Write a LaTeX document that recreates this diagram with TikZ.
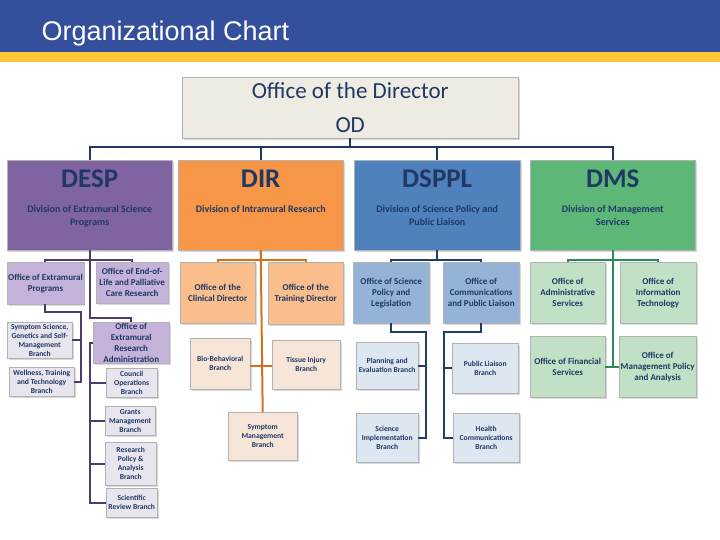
\documentclass[tikz,border=0pt]{standalone}
\usepackage{fontspec}
\setmainfont{Carlito}
\newfontfamily\titlefont{Liberation Sans}
\usetikzlibrary{shadows}
\definecolor{navy}{HTML}{1F3864}
\definecolor{hdrblue}{HTML}{34509C}
\definecolor{hdrgold}{HTML}{FFC83A}
\definecolor{purpD}{HTML}{8064A2}\definecolor{purpM}{HTML}{C4B2DA}\definecolor{purpL}{HTML}{E9E5EF}\definecolor{purpLn}{HTML}{4E3A6C}
\definecolor{orgD}{HTML}{F79646}\definecolor{orgM}{HTML}{F9BE8C}\definecolor{orgL}{HTML}{F7E5D8}\definecolor{orgLn}{HTML}{D2721E}
\definecolor{bluD}{HTML}{4F81BD}\definecolor{bluM}{HTML}{95B3D7}\definecolor{bluL}{HTML}{DDE7F1}\definecolor{bluLn}{HTML}{213E6C}
\definecolor{grnD}{HTML}{5DB878}\definecolor{grnM}{HTML}{C2E0C5}\definecolor{grnLn}{HTML}{2E8A5A}
\definecolor{odfill}{HTML}{EEEBE3}
\tikzset{
  block/.style={anchor=north west, inner sep=1pt, align=center, text=navy,
    font=\bfseries, draw=white!70!black, line width=0.4pt,
    drop shadow={opacity=0.3, shadow xshift=1.5pt, shadow yshift=-1.5pt}},
  division/.style={block, font=\bfseries\fontsize{10}{13}\selectfont},
  office/.style={block, font=\bfseries\fontsize{9}{11}\selectfont},
  branch/.style={block, font=\bfseries\fontsize{7.6}{9}\selectfont},
  link/.style={line width=2pt},
}
\newcommand{\abbr}[1]{{\fontsize{27}{30}\selectfont #1}}
\begin{document}
\begin{tikzpicture}[x=1pt,y=-1pt]
\useasboundingbox (0,0) rectangle (720,540);
% header band
\fill[hdrblue] (0,0) rectangle (720,52);
\fill[hdrgold] (0,52) rectangle (720,62);
\node[anchor=west, text=white, font=\titlefont\fontsize{27}{30}\selectfont] (title) at (38,34) {Organizational Chart};

% director and divisions
\node[block, fill=odfill, minimum width=336pt, minimum height=61pt, font=\fontsize{23}{34}\selectfont] (od) at (182,77) {Office of the Director\\OD};
\node[division, fill=purpD, minimum width=165pt, minimum height=90pt] (desp) at (7,160) {\abbr{DESP}\\[12pt]Division of Extramural Science\\Programs\\[2pt]};
\node[division, fill=orgD, minimum width=165pt, minimum height=90pt] (dir) at (178,160) {\abbr{DIR}\\[12pt]Division of Intramural Research\\[15pt]};
\node[division, fill=bluD, minimum width=166pt, minimum height=90pt] (dsppl) at (354,160) {\abbr{DSPPL}\\[12pt]Division of Science Policy and\\Public Liaison\\[2pt]};
\node[division, fill=grnD, minimum width=165pt, minimum height=90pt] (dms) at (530,160) {\abbr{DMS}\\[12pt]Division of Management\\Services\\[2pt]};
\draw[link, navy, line width=2.2pt] (od.south) -- ++(0,9) coordinate (bus);
\foreach \d in {desp,dir,dsppl,dms}
  \draw[link, navy, line width=2.2pt] (bus) -| (\d.north);

% DESP
\node[office, fill=purpM, minimum width=75pt, minimum height=42pt] (oep) at (7,262) {Office of Extramural\\Programs};
\node[office, fill=purpM, minimum width=72pt, minimum height=41pt] (oel) at (96,262) {Office of End-of-\\Life and Palliative\\Care Research};
\node[office, fill=purpM, minimum width=76pt, minimum height=40pt] (ora) at (93,322) {Office of\\Extramural\\Research\\Administration};
\node[branch, fill=purpL, minimum width=65pt, minimum height=36pt] (ssg) at (7,322) {Symptom Science,\\Genetics and Self-\\Management\\Branch};
\node[branch, fill=purpL, minimum width=65pt, minimum height=29pt] (wtt) at (9,367) {Wellness, Training\\and Technology\\Branch};
\node[branch, fill=purpL, minimum width=51pt, minimum height=29pt] (cob) at (106,368) {Council\\Operations\\Branch};
\node[branch, fill=purpL, minimum width=50pt, minimum height=29pt] (gmb) at (105,406) {Grants\\Management\\Branch};
\node[branch, fill=purpL, minimum width=51pt, minimum height=43pt] (rpa) at (105,442) {Research\\Policy \&\\Analysis\\Branch};
\node[branch, fill=purpL, minimum width=51pt, minimum height=29pt] (srb) at (106,488) {Scientific\\Review Branch};
\draw[link, purpLn] (desp.south) -- ++(0,10) coordinate (despbus);
\draw[link, purpLn] (despbus) -| (oep.north);
\draw[link, purpLn] (despbus) -| (oel.north);
\draw[link, purpLn] (desp.south) -- (desp.south |- 0,318) -| (ora.north);
\draw[link, purpLn] (oep.south) |- (81,312) |- (wtt.east);
\draw[link, purpLn] (ssg.east) -- (ssg.east -| 81,0);
\draw[link, purpLn] (ora.west) -- ++(-3,0) |- (srb.west);
\foreach \b in {cob,gmb,rpa}
  \draw[link, purpLn] (\b.west) -- (\b.west -| 90,0);

% DIR
\node[office, fill=orgM, minimum width=75pt, minimum height=61pt] (ocd) at (180,262) {Office of the\\Clinical Director};
\node[office, fill=orgM, minimum width=75pt, minimum height=62pt] (otd) at (268,262) {Office of the\\Training Director};
\node[branch, fill=orgL, minimum width=60pt, minimum height=51pt] (bbb) at (190,338) {Bio-Behavioral\\Branch};
\node[branch, fill=orgL, minimum width=68pt, minimum height=49pt] (tib) at (272,340) {Tissue Injury\\Branch};
\node[branch, fill=orgL, minimum width=69pt, minimum height=48pt] (smb) at (228,412) {Symptom\\Management\\Branch};
\draw[link, orgLn] (dir.south) -- ++(0,10) coordinate (dirbus);
\draw[link, orgLn] (dirbus) -| (ocd.north);
\draw[link, orgLn] (dirbus) -| (otd.north);
\draw[link, orgLn] (dir.south) -- (smb.north);
\draw[link, orgLn] (bbb.east |- 0,366) -- (tib.west |- 0,366);

% DSPPL
\node[office, fill=bluM, minimum width=76pt, minimum height=61pt] (ospl) at (353,262) {Office of Science\\Policy and\\Legislation};
\node[office, fill=bluM, minimum width=76pt, minimum height=61pt] (ocpl) at (443,262) {Office of\\Communications\\and Public Liaison};
\node[branch, fill=bluL, minimum width=62pt, minimum height=47pt] (peb) at (356,342) {Planning and\\Evaluation Branch};
\node[branch, fill=bluL, minimum width=62pt, minimum height=49pt] (sib) at (356,413) {Science\\Implementation\\Branch};
\node[branch, fill=bluL, minimum width=66pt, minimum height=50pt] (plb) at (452,343) {Public Liaison\\Branch};
\node[branch, fill=bluL, minimum width=66pt, minimum height=49pt] (hcb) at (453,413) {Health\\Communications\\Branch};
\draw[link, bluLn] (dsppl.south) -- ++(0,10) coordinate (dspplbus);
\draw[link, bluLn] (dspplbus) -| (ospl.north);
\draw[link, bluLn] (dspplbus) -| (ocpl.north);
\draw[link, bluLn] (ospl.south) |- (426,332) |- (sib.east);
\draw[link, bluLn] (peb.east) -- (peb.east -| 426,0);
\draw[link, bluLn] (ocpl.south) |- (444,332) |- (hcb.west);
\draw[link, bluLn] (plb.west) -- (plb.west -| 444,0);

% DMS
\node[office, fill=grnM, minimum width=75pt, minimum height=61pt] (oas) at (530,262) {Office of\\Administrative\\Services};
\node[office, fill=grnM, minimum width=76pt, minimum height=61pt] (oit) at (620,262) {Office of\\Information\\Technology};
\node[office, fill=grnM, minimum width=75pt, minimum height=61pt] (ofs) at (530,336) {Office of Financial\\Services};
\node[office, fill=grnM, minimum width=77pt, minimum height=61pt] (omp) at (619,336) {Office of\\Management Policy\\and Analysis};
\draw[link, grnLn] (dms.south) -- ++(0,10) coordinate (dmsbus);
\draw[link, grnLn] (dmsbus) -| (oas.north);
\draw[link, grnLn] (dmsbus) -| (oit.north);
\draw[link, grnLn] (dms.south) |- (omp.west);
\draw[link, grnLn] (ofs.east) -- (omp.west);
\end{tikzpicture}
\end{document}
